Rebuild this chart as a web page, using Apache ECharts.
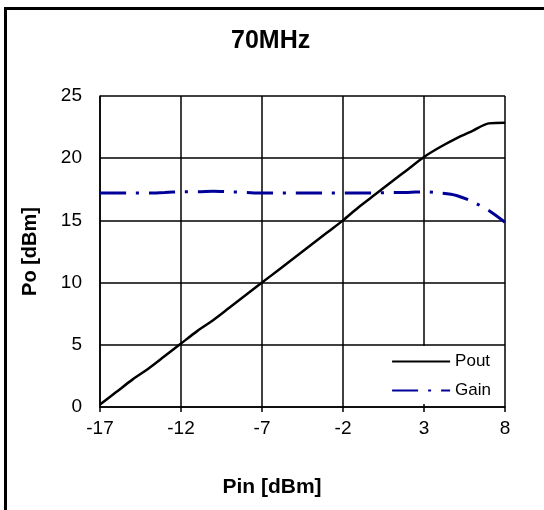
<!DOCTYPE html>
<html>
<head>
<meta charset="utf-8">
<script src="https://cdn.jsdelivr.net/npm/echarts@6/dist/echarts.min.js"></script>
<style>html,body{margin:0;padding:0;background:#fff}#c{width:544px;height:510px}</style>
</head>
<body>
<div id="c"></div>
<script>
const pin = [-17,-16,-15,-14,-13,-12,-11,-10,-9,-8,-7,-6,-5,-4,-3,-2,-1,0,1,2,3,4,5,6,7,8];
const pout = [0.2,1.2,2.2,3.1,4.1,5.1,6.1,7.0,8.0,9.0,10.0,11.0,12.0,13.0,14.0,15.0,16.1,17.1,18.1,19.1,20.1,20.9,21.6,22.2,22.8,22.85];
const gain = [17.2,17.2,17.2,17.2,17.25,17.3,17.3,17.35,17.3,17.25,17.2,17.2,17.2,17.2,17.2,17.2,17.2,17.2,17.25,17.25,17.3,17.2,17.0,16.5,15.8,14.85];

const chart = echarts.init(document.getElementById('c'), null, {renderer:'canvas'});
const font = 'Liberation Sans, Arial, sans-serif';
chart.setOption({
  animation:false,
  backgroundColor:'#fff',
  textStyle:{fontFamily:font},
  title:{text:'70MHz', left:226, top:24, textStyle:{fontSize:25, fontWeight:'bold', color:'#000', fontFamily:font}},
  grid:{left:100, right:39, top:96, bottom:103, containLabel:false},
  graphic:[{type:'rect', shape:{x:5.5,y:8.5,width:600,height:600}, style:{fill:null, stroke:'#000', lineWidth:3}, z:100, silent:true}],
  legend:{
    right:40, bottom:106, orient:'vertical', backgroundColor:'#fff', padding:[7,13,5,43],
    itemWidth:58, itemHeight:14, itemGap:12,
    itemStyle:{opacity:0},
    textStyle:{fontSize:17, color:'#000', fontFamily:font},
    data:[{name:'Pout'},{name:'Gain'}]
  },
  xAxis:{type:'value', min:-17, max:8, interval:5,
    name:'Pin [dBm]', nameLocation:'middle', nameGap:70,
    nameTextStyle:{fontSize:21, fontWeight:'bold', color:'#000', fontFamily:font, padding:[0,61,0,0]},
    axisLine:{show:true, onZero:false, lineStyle:{color:'#000', width:1.5}},
    axisTick:{show:true, inside:false, length:5, lineStyle:{color:'#000', width:1.5}},
    axisLabel:{fontSize:19, color:'#000', margin:12, fontFamily:font},
    splitLine:{show:true, lineStyle:{color:'#000', width:1.5}}
  },
  yAxis:{type:'value', min:0, max:25, interval:5,
    name:'Po [dBm]', nameLocation:'middle', nameGap:60, nameRotate:90,
    nameTextStyle:{fontSize:20, fontWeight:'bold', color:'#000', fontFamily:font},
    axisLine:{show:true, onZero:false, lineStyle:{color:'#000', width:1.5}},
    axisTick:{show:false},
    axisLabel:{fontSize:19, color:'#000', margin:18, fontFamily:font},
    splitLine:{show:true, lineStyle:{color:'#000', width:1.5}}
  },
  series:[
    {name:'Pout', type:'line', smooth:0.3, showSymbol:false, symbol:'none',
     data: pin.map((x,i)=>[x,pout[i]]),
     lineStyle:{color:'#000', width:2.5}, itemStyle:{color:'#000'}, z:3},
    {name:'Gain', type:'line', smooth:0.3, showSymbol:false, symbol:'none',
     data: pin.map((x,i)=>[x,gain[i]]),
     lineStyle:{color:'#000099', width:3, type:[26,10,3,10]}, itemStyle:{color:'#000099'}, z:2}
  ]
});
</script>
</body>
</html>
